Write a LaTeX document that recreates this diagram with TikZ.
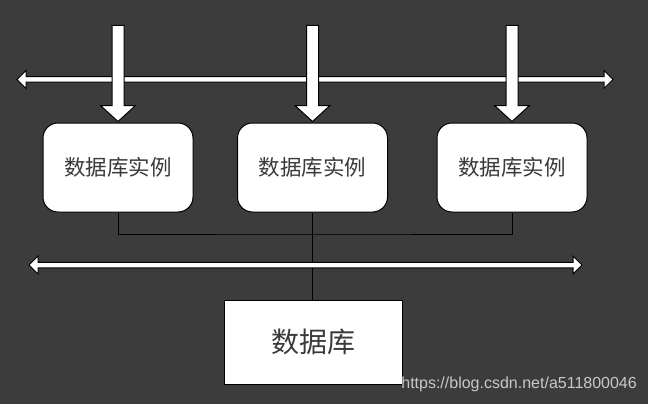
\documentclass[tikz,border=0pt]{standalone}
\usepackage{fontspec}
\setmainfont{Liberation Sans}
\newfontfamily\cjk{Noto Sans CJK SC}
\definecolor{bgc}{HTML}{3C3C3C}
\definecolor{wmc}{HTML}{C8C8C8}
\definecolor{txc}{HTML}{3A3A3A}
\newcommand\dblarrowpath[3]{%
  \draw[arrowsty] (#1,#3) -- (#1+9,#3-9) -- (#1+9,#3-2.75) -- (#2-9,#3-2.75)
    -- (#2-9,#3-9) -- (#2,#3) -- (#2-9,#3+9) -- (#2-9,#3+2.75)
    -- (#1+9,#3+2.75) -- (#1+9,#3+9) -- cycle;}
\begin{document}
\begin{tikzpicture}[x=1pt,y=-1pt,
  arrowsty/.style={draw=black, fill=white, line width=1pt, line join=miter},
  inst/.style={draw=black, fill=white, line width=1pt, rounded corners=15pt,
    minimum width=150pt, minimum height=89pt, inner sep=0pt, text=txc,
    font=\cjk\fontsize{21.5}{24}\selectfont},
  dbbox/.style={draw=black, fill=white, line width=1pt,
    minimum width=178pt, minimum height=84pt, inner sep=0pt, text=txc,
    font=\cjk\fontsize{28}{30}\selectfont},
  link/.style={draw=black, line width=1pt},
  dnarrow/.pic={\draw[arrowsty] (-6,-96) -- (6,-96) -- (6,-16) -- (17.5,-16)
    -- (0,0) -- (-17.5,-16) -- (-6,-16) -- cycle;}
]
\fill[bgc] (0,0) rectangle (648,404);
\useasboundingbox (0,0) rectangle (648,404);

% top bus arrow
\dblarrowpath{17}{613}{79.5}

% instance boxes
\node[inst] (i1) at (118,167.5) {数据库实例};
\node[inst] (i2) at (312.5,167.5) {数据库实例};
\node[inst] (i3) at (512,167.5) {数据库实例};

% down arrows
\pic at ([yshift=1pt]i1.north) {dnarrow};
\pic at ([yshift=1pt]i2.north) {dnarrow};
\pic at ([yshift=1pt]i3.north) {dnarrow};

% database box
\node[dbbox] (db) at (313,342) {数据库};

% connectors
\coordinate (bus) at (312.5,234);
\draw[link] (i1.south) |- (bus) -| (i3.south);
\draw[link] (i2.south) -- (i2.south |- db.north);

% lower bus arrow
\dblarrowpath{29}{582}{265}

% watermark
\node[anchor=base east, inner sep=0pt, text=wmc, font=\fontsize{16}{18}\selectfont]
  (wm) at (637,388) {https://blog.csdn.net/a511800046};
\end{tikzpicture}
\end{document}
